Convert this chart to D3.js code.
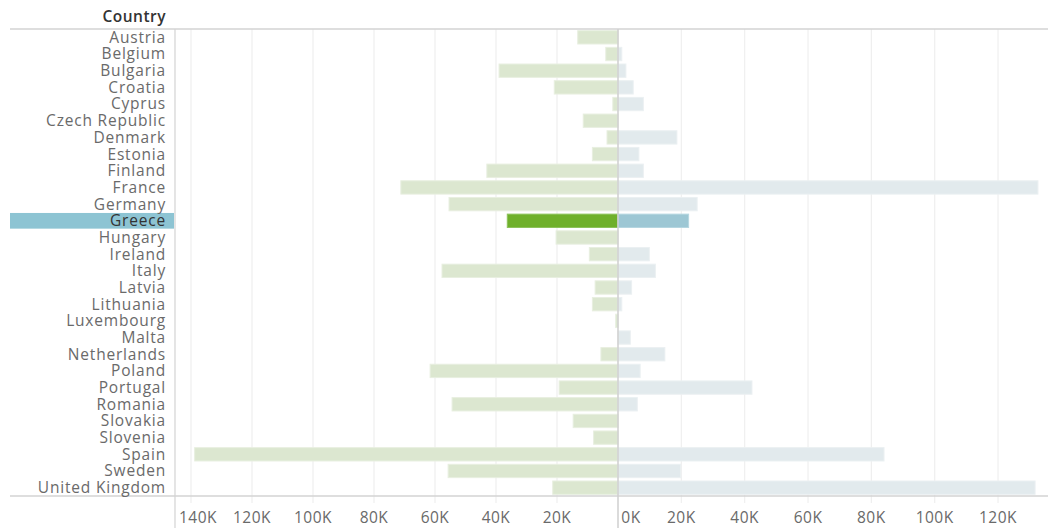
<!DOCTYPE html>
<html>
<head>
<meta charset="utf-8">
<script src="https://cdn.jsdelivr.net/npm/d3@7"></script>
<style>
  body { margin: 0; background: #fff; }
  text { font-family: "Open Sans", sans-serif; }
</style>
</head>
<body>
<svg id="chart" width="1048" height="528"></svg>
<script>
// countries, values in thousands
const countries = ['Austria', 'Belgium', 'Bulgaria', 'Croatia', 'Cyprus', 'Czech Republic', 'Denmark',
  'Estonia', 'Finland', 'France', 'Germany', 'Greece', 'Hungary', 'Ireland', 'Italy', 'Latvia',
  'Lithuania', 'Luxembourg', 'Malta', 'Netherlands', 'Poland', 'Portugal', 'Romania', 'Slovakia',
  'Slovenia', 'Spain', 'Sweden', 'United Kingdom'];
const negValues = [13.2, 4.0, 39.0, 20.9, 1.7, 11.4, 3.6, 8.4, 43.0, 71.2, 55.4, 36.3, 20.3, 9.4, 57.7,
  7.5, 8.4, 0.75, 0, 5.6, 61.6, 19.3, 54.4, 14.7, 8.0, 138.8, 55.7, 21.4];
const posValues = [0, 1.2, 2.5, 4.8, 8.0, 0, 18.6, 6.6, 8.0, 132.6, 25.0, 22.3, 0, 9.9, 11.8, 4.3,
  1.2, 0, 3.9, 14.8, 7.0, 42.3, 6.1, 0, 0, 84.0, 19.8, 131.7];
const leftTicks = [140, 120, 100, 80, 60, 40, 20, 0];
const rightTicks = [0, 20, 40, 60, 80, 100, 120];
const highlight = 'Greece';

const svg = d3.select('#chart');
let y0 = 29, y1 = 496;
let labelLeft = 10, paneL = 175, zeroX = 618, paneR = 1042;

let y = d3.scaleBand().domain(countries).range([y0, y1]).paddingInner(0.2).paddingOuter(0.1);
let yRow = d3.scaleBand().domain(countries).range([y0, y1]);
let xL = d3.scaleLinear().domain([0, (zeroX - paneL) / 3.05]).range([zeroX, paneL]);
let xR = d3.scaleLinear().domain([0, (paneR - zeroX) / 3.167]).range([zeroX, paneR]);

// grid
svg.append('g').selectAll('line').data(leftTicks.filter(t => t > 0)).join('line')
    .attr('x1', d => xL(d)).attr('x2', d => xL(d))
    .attr('y1', y0).attr('y2', y1 + 7)
    .attr('stroke', '#efefef').attr('stroke-width', 1.2);
svg.append('g').selectAll('line').data(rightTicks.filter(t => t > 0)).join('line')
    .attr('x1', d => xR(d)).attr('x2', d => xR(d))
    .attr('y1', y0).attr('y2', y1 + 7)
    .attr('stroke', '#efefef').attr('stroke-width', 1.2);

// highlighted row
svg.append('rect')
    .attr('x', labelLeft).attr('y', yRow(highlight) + 0.5)
    .attr('width', paneL - labelLeft - 1).attr('height', yRow.bandwidth() - 1)
    .attr('fill', '#8dc4d3');

let rows = countries.map((c, i) => ({ name: c, neg: negValues[i], pos: posValues[i] }));

svg.append('g').selectAll('rect').data(rows.filter(d => d.neg > 0)).join('rect')
    .attr('x', d => xL(d.neg)).attr('y', d => y(d.name))
    .attr('width', d => zeroX - xL(d.neg)).attr('height', y.bandwidth())
    .attr('fill', d => d.name === highlight ? '#6fb02b' : '#dce7d0')
    .attr('stroke', d => d.name === highlight ? '#8cc25a' : '#e8efe0').attr('stroke-width', 1);

svg.append('g').selectAll('rect').data(rows.filter(d => d.pos > 0)).join('rect')
    .attr('x', zeroX).attr('y', d => y(d.name))
    .attr('width', d => xR(d.pos) - zeroX).attr('height', y.bandwidth())
    .attr('fill', d => d.name === highlight ? '#9dc7d4' : '#e2eaed')
    .attr('stroke', d => d.name === highlight ? '#b5d6e0' : '#ebf0f2').attr('stroke-width', 1);

// frame lines
svg.append('line').attr('x1', labelLeft).attr('x2', 1048).attr('y1', y0).attr('y2', y0)
    .attr('stroke', '#d3d3d3').attr('stroke-width', 1.5);
svg.append('line').attr('x1', labelLeft).attr('x2', 1048).attr('y1', y1).attr('y2', y1)
    .attr('stroke', '#d3d3d3').attr('stroke-width', 1.5);
svg.append('line').attr('x1', paneL).attr('x2', paneL).attr('y1', y0).attr('y2', 528)
    .attr('stroke', '#d3d3d3').attr('stroke-width', 1.2);
svg.append('line').attr('x1', zeroX).attr('x2', zeroX).attr('y1', y0).attr('y2', 528)
    .attr('stroke', '#cfcfcf').attr('stroke-width', 1.5);

// labels
svg.append('text').attr('x', 166).attr('y', 22).attr('text-anchor', 'end')
    .attr('fill', '#333').style('font-size', '15.5px').style('font-weight', 600)
    .style('letter-spacing', '0.5px')
    .text('Country');
svg.append('g').selectAll('text').data(countries).join('text')
    .attr('x', 166).attr('y', d => yRow(d) + yRow.bandwidth() / 2)
    .attr('dy', '0.35em').attr('text-anchor', 'end')
    .attr('fill', d => d === highlight ? '#333' : '#6a6a6a')
    .style('font-size', '15.5px').style('letter-spacing', '0.8px')
    .text(d => d);

// axis labels
let fmt = d => d + 'K';
svg.append('g').selectAll('text').data(leftTicks.filter(t => t > 0)).join('text')
    .attr('x', d => Math.max(xL(d), paneL + 23)).attr('y', 523)
    .attr('text-anchor', 'middle').attr('fill', '#6a6a6a')
    .style('font-size', '15.5px').style('letter-spacing', '0.5px')
    .text(fmt);
svg.append('g').selectAll('text').data(rightTicks).join('text')
    .attr('x', d => Math.max(xR(d), zeroX + 13)).attr('y', 523)
    .attr('text-anchor', 'middle').attr('fill', '#6a6a6a')
    .style('font-size', '15.5px').style('letter-spacing', '0.5px')
    .text(fmt);
</script>
</body>
</html>
